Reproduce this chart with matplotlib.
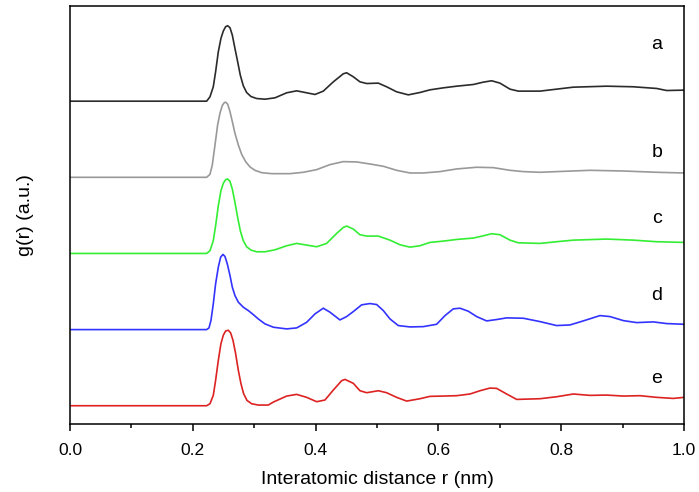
import numpy as np
import matplotlib.pyplot as plt
from matplotlib.ticker import MultipleLocator

## font that looks like arial
plt.rcParams['font.family'] = ['Liberation Sans', 'DejaVu Sans']

## curve a (top, black)
rA = [0.0, 0.2226, 0.228, 0.2334, 0.2372, 0.2416, 0.2459, 0.2497, 0.2535, 0.2568, 0.2606, 0.2644,
      0.2687, 0.2731, 0.2774, 0.2823, 0.2877, 0.2948, 0.304, 0.3176, 0.3339, 0.3529, 0.3692, 0.3855,
      0.399, 0.4126, 0.4289, 0.4452, 0.4506, 0.4615, 0.4723, 0.4832, 0.5022, 0.5157, 0.532, 0.551,
      0.57, 0.5863, 0.608, 0.6298, 0.6569, 0.6732, 0.6868, 0.7003, 0.7166, 0.7302, 0.7655, 0.7926,
      0.8198, 0.874, 0.9175, 0.9555, 0.9718, 1.0]
gA = [0.0, 0.0, 0.057, 0.189, 0.386, 0.649, 0.825, 0.921, 0.978, 0.991, 0.965, 0.868,
      0.693, 0.518, 0.342, 0.202, 0.114, 0.061, 0.035, 0.026, 0.044, 0.110, 0.136, 0.110,
      0.088, 0.132, 0.254, 0.360, 0.373, 0.320, 0.254, 0.232, 0.237, 0.189, 0.123, 0.083,
      0.114, 0.149, 0.175, 0.197, 0.219, 0.250, 0.268, 0.237, 0.158, 0.132, 0.132, 0.158,
      0.184, 0.197, 0.189, 0.167, 0.140, 0.145]

## curve b (grey)
rB = [0.0, 0.2226, 0.228, 0.2318, 0.2362, 0.2405, 0.2443, 0.2481, 0.2514, 0.2535, 0.2568, 0.2606,
      0.2644, 0.2687, 0.2742, 0.2796, 0.2861, 0.2932, 0.3013, 0.3122, 0.3285, 0.3583, 0.38, 0.4018,
      0.4235, 0.4452, 0.4669, 0.4886, 0.5103, 0.532, 0.5537, 0.5755, 0.6026, 0.6298, 0.6623, 0.6895,
      0.7166, 0.7384, 0.7655, 0.7926, 0.8469, 0.9012, 0.9555, 1.0]
gB = [0.0, 0.0, 0.039, 0.162, 0.425, 0.689, 0.842, 0.943, 0.982, 0.987, 0.961, 0.864,
      0.732, 0.579, 0.425, 0.303, 0.206, 0.136, 0.092, 0.061, 0.048, 0.048, 0.066, 0.101,
      0.167, 0.206, 0.202, 0.175, 0.145, 0.092, 0.057, 0.057, 0.075, 0.110, 0.132, 0.127,
      0.092, 0.075, 0.066, 0.075, 0.092, 0.083, 0.066, 0.057]

## curve c (green)
rC = [0.0, 0.2226, 0.228, 0.2334, 0.2372, 0.2416, 0.2459, 0.2497, 0.2535, 0.2568, 0.2606, 0.2644,
      0.2687, 0.2731, 0.2774, 0.2823, 0.2877, 0.2948, 0.304, 0.3176, 0.3339, 0.3529, 0.3692, 0.3855,
      0.4018, 0.418, 0.4343, 0.4452, 0.4506, 0.4615, 0.4723, 0.4832, 0.5022, 0.5212, 0.5375, 0.5537,
      0.57, 0.5863, 0.608, 0.6298, 0.6569, 0.6732, 0.6868, 0.7003, 0.7166, 0.7302, 0.7655, 0.7926,
      0.8198, 0.874, 0.9175, 0.9555, 1.0]
gC = [0.0, 0.0, 0.035, 0.167, 0.364, 0.627, 0.825, 0.921, 0.969, 0.978, 0.947, 0.846,
      0.671, 0.474, 0.298, 0.167, 0.088, 0.044, 0.022, 0.022, 0.048, 0.101, 0.132, 0.110,
      0.088, 0.132, 0.263, 0.342, 0.360, 0.320, 0.246, 0.228, 0.228, 0.175, 0.114, 0.083,
      0.101, 0.145, 0.162, 0.184, 0.202, 0.232, 0.259, 0.246, 0.175, 0.140, 0.132, 0.154,
      0.175, 0.189, 0.175, 0.154, 0.145]

## curve d (blue)
rD = [0.0, 0.2226, 0.2264, 0.2296, 0.2334, 0.2372, 0.2416, 0.2454, 0.2492, 0.2524, 0.2562, 0.2606,
      0.2644, 0.2687, 0.2742, 0.2823, 0.2904, 0.2986, 0.3067, 0.3176, 0.3312, 0.3529, 0.3692, 0.3855,
      0.399, 0.4126, 0.4235, 0.4397, 0.4506, 0.4615, 0.475, 0.4886, 0.4995, 0.5103, 0.5212, 0.5347,
      0.5537, 0.5755, 0.5972, 0.6108, 0.6243, 0.6352, 0.6488, 0.6623, 0.6786, 0.6949, 0.7112, 0.7384,
      0.7655, 0.7926, 0.8143, 0.836, 0.8632, 0.8795, 0.9012, 0.9229, 0.9501, 0.9718, 1.0]
gD = [0.0, 0.0, 0.022, 0.118, 0.338, 0.601, 0.820, 0.952, 0.987, 0.961, 0.864, 0.711,
      0.557, 0.447, 0.360, 0.294, 0.250, 0.197, 0.140, 0.075, 0.031, 0.009, 0.022, 0.096,
      0.206, 0.281, 0.228, 0.127, 0.171, 0.237, 0.325, 0.342, 0.329, 0.250, 0.140, 0.053,
      0.035, 0.039, 0.070, 0.184, 0.272, 0.281, 0.241, 0.171, 0.114, 0.132, 0.154, 0.149,
      0.105, 0.053, 0.061, 0.114, 0.184, 0.171, 0.118, 0.092, 0.101, 0.079, 0.070]

## curve e (bottom, red)
rE = [0.0, 0.2226, 0.228, 0.2334, 0.2372, 0.2416, 0.2459, 0.2497, 0.2535, 0.2579, 0.2617, 0.2655,
      0.2698, 0.2742, 0.2785, 0.2828, 0.2883, 0.2959, 0.3067, 0.323, 0.3312, 0.3529, 0.3692, 0.3855,
      0.4018, 0.4153, 0.4289, 0.4425, 0.4479, 0.4615, 0.4723, 0.4832, 0.5022, 0.5157, 0.532, 0.5483,
      0.57, 0.5863, 0.608, 0.6298, 0.6515, 0.6678, 0.684, 0.6949, 0.7112, 0.7275, 0.7655, 0.7926,
      0.8198, 0.8469, 0.874, 0.9012, 0.9284, 0.9555, 0.9827, 1.0]
gE = [0.0, 0.0, 0.026, 0.136, 0.333, 0.596, 0.816, 0.925, 0.982, 0.991, 0.956, 0.860,
      0.684, 0.465, 0.289, 0.158, 0.070, 0.026, 0.009, 0.009, 0.048, 0.127, 0.149, 0.110,
      0.053, 0.075, 0.206, 0.329, 0.346, 0.294, 0.197, 0.171, 0.197, 0.171, 0.110, 0.061,
      0.092, 0.123, 0.127, 0.132, 0.154, 0.197, 0.232, 0.228, 0.154, 0.083, 0.092, 0.118,
      0.154, 0.136, 0.140, 0.127, 0.132, 0.110, 0.096, 0.110]

labels = ['a', 'b', 'c', 'd', 'e']
colors = ['#2b2b2b', '#999999', '#33ee33', '#3333ff', '#dd2222']
offsets = [4, 3, 2, 1, 0]
labelY = [4.74, 3.33, 2.46, 1.45, 0.36]

fig = plt.figure(figsize=(6.99, 4.92), dpi=100)
ax = fig.add_axes([0.1001, 0.1382, 0.8784, 0.8496])

curves = [(rA, gA), (rB, gB), (rC, gC), (rD, gD), (rE, gE)]
for (r, g), col, off, lab, ly in zip(curves, colors, offsets, labels, labelY):
    ax.plot(r, np.array(g) + off, color=col, linewidth=1.2, solid_joinstyle='round')
    ax.text(0.956, ly, lab, fontsize=14, ha='center', va='center')

ax.set_xlim(0, 1.0)
ax.set_ylim(-0.24, 5.25)
ax.xaxis.set_major_locator(MultipleLocator(0.2))
ax.xaxis.set_minor_locator(MultipleLocator(0.1))
ax.set_yticks([])
ax.tick_params(axis='x', which='major', direction='out', length=5, width=1.1, labelsize=12.5, pad=9)
ax.tick_params(axis='x', which='minor', direction='out', length=3, width=1.1)
for s in ax.spines.values():
    s.set_linewidth(1.1)

ax.set_xlabel('Interatomic distance r (nm)', fontsize=14, labelpad=9)
ax.set_ylabel('g(r) (a.u.)', fontsize=14, labelpad=26)

fig.savefig('out.png', dpi=100)
